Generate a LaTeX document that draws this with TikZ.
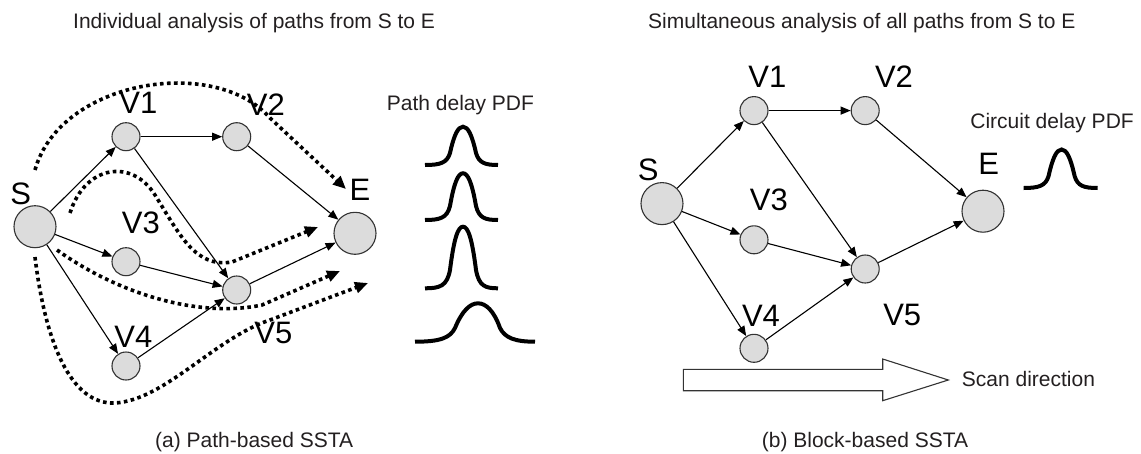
\documentclass[tikz,border=0pt]{standalone}
\usepackage{fontspec}
\setmainfont{Liberation Sans}
\usetikzlibrary{arrows.meta}
\definecolor{nodefill}{HTML}{DCDCDC}
\definecolor{nodeline}{HTML}{333333}
\definecolor{txtcol}{HTML}{231F20}
\begin{document}
\begin{tikzpicture}[x=1pt,y=-1pt,
  vtx/.style={circle, draw=nodeline, fill=nodefill, line width=1.1pt, minimum size=28pt, inner sep=0pt},
  bigvtx/.style={vtx, minimum size=42pt},
  lbl/.style={font=\fontsize{31}{31}\selectfont, inner sep=0pt, text=black},
  txt/.style={font=\fontsize{21}{21}\selectfont, inner sep=0pt, text=txtcol},
  conn/.style={-{Triangle[length=10pt,width=8pt]}, line width=1.1pt},
  pathdots/.style={line width=3.6pt, dash pattern=on 3.6pt off 3.4pt, -{Triangle[length=13pt,width=11pt]}},
  bellcurve/.style={line width=4pt},
  scanarrow/.style={draw=nodeline, fill=white, line width=1.1pt, line join=miter}
]
\useasboundingbox (0,0) rectangle (1141,453);

% titles and captions
\node[txt, anchor=base west] (t1) at (73,28.3) {Individual analysis of paths from S to E};
\node[txt, anchor=base west] (t2) at (648,28.3) {Simultaneous analysis of all paths from S to E};
\node[txt, anchor=base west] (c1) at (155,447) {(a) Path-based SSTA};
\node[txt, anchor=base west] (c2) at (761.7,447) {(b) Block-based SSTA};

% ---------- left graph ----------
\node[bigvtx] (S) at (35,226.7) {};
\node[vtx] (V1) at (126,136.7) {};
\node[vtx] (V2) at (236.7,136.7) {};
\node[vtx] (V3) at (126,261.7) {};
\node[vtx] (V5) at (236.7,290) {};
\node[vtx] (V4) at (126,366) {};
\node[bigvtx] (E) at (355,233.3) {};

\node[lbl] (lS) at (20.8,194.2) {S};
\node[lbl] (lV1) at (138.3,103.3) {V1};
\node[lbl] (lV2) at (265.8,104.2) {V2};
\node[lbl] (lE) at (360,190) {E};
\node[lbl] (lV3) at (140.8,223.3) {V3};
\node[lbl] (lV4) at (133.3,336.7) {V4};
\node[lbl] (lV5) at (273.3,333.3) {V5};

\draw[conn] (S) -- (V1);
\draw[conn] (S) -- (V3);
\draw[conn] (S) -- (V4);
\draw[conn] (V1) -- (V2);
\draw[conn] (V1) -- (V5);
\draw[conn] (V2) -- (E);
\draw[conn] (V3) -- (V5);
\draw[conn] (V4) -- (V5);
\draw[conn] (V5) -- (E);

% dotted path arrows
\coordinate (p1s) at (35,170);
\coordinate (p1e) at (346,189);
\coordinate (p2s) at (70,213);
\coordinate (p2e) at (318,227);
\coordinate (p3s) at (57,250);
\coordinate (p3e) at (340,271);
\coordinate (p4s) at (35,257);
\coordinate (p4e) at (368,283);
\draw[pathdots] (p1s) .. controls (60,80) and (215,55) .. (270,118) -- (p1e);
\draw[pathdots] (p2s) .. controls (85,165) and (132,158) .. (155,195)
  .. controls (180,235) and (195,268) .. (232,262) -- (p2e);
\draw[pathdots] (p3s) .. controls (120,295) and (200,318) .. (262,305) -- (p3e);
\draw[pathdots] (p4s) .. controls (45,340) and (70,405) .. (115,403)
  .. controls (165,400) and (215,338) .. (270,320) -- (p4e);

% path delay PDFs
\node[txt, anchor=base west] (pdl) at (386.7,110.7) {Path delay PDF};
\draw[bellcurve] (425,165) .. controls (440,165) and (447,163) .. (450,153)
  .. controls (454,135) and (458,126.7) .. (463,126.7)
  .. controls (468,126.7) and (472,135) .. (476,153)
  .. controls (479,163) and (485,165) .. (498,165);
\draw[bellcurve] (425,220) .. controls (440,220) and (447,218) .. (450,206)
  .. controls (454,183) and (458,173.3) .. (463,173.3)
  .. controls (468,173.3) and (472,183) .. (476,206)
  .. controls (479,218) and (485,220) .. (498,220);
\draw[bellcurve] (425,288.3) .. controls (440,288.3) and (447,286) .. (450,270)
  .. controls (454,238) and (458,226.7) .. (463,226.7)
  .. controls (468,226.7) and (472,238) .. (476,270)
  .. controls (479,286) and (485,288.3) .. (498,288.3);
\draw[bellcurve] (415,341.7) .. controls (440,341.7) and (450,338) .. (455,328)
  .. controls (462,311) and (470,303.3) .. (478,303.3)
  .. controls (486,303.3) and (494,311) .. (500,328)
  .. controls (505,338) and (515,341.7) .. (535,341.7);

% ---------- right graph ----------
\node[bigvtx] (RS) at (662,203.6) {};
\node[vtx] (RV1) at (754,110.6) {};
\node[vtx] (RV2) at (865.2,110.6) {};
\node[vtx] (RV3) at (754,239.8) {};
\node[vtx] (RV5) at (865.2,269) {};
\node[vtx] (RV4) at (754,348.3) {};
\node[bigvtx] (RE) at (983,211.2) {};

\node[lbl] (rlS) at (648.2,170) {S};
\node[lbl] (rlV1) at (767.4,77) {V1};
\node[lbl] (rlV2) at (894,77) {V2};
\node[lbl] (rlV3) at (768.8,200.1) {V3};
\node[lbl] (rlE) at (988.8,164.3) {E};
\node[lbl] (rlV4) at (761,315.5) {V4};
\node[lbl] (rlV5) at (902.2,314.7) {V5};

\draw[conn] (RS) -- (RV1);
\draw[conn] (RS) -- (RV3);
\draw[conn] (RS) -- (RV4);
\draw[conn] (RV1) -- (RV2);
\draw[conn] (RV1) -- (RV5);
\draw[conn] (RV2) -- (RE);
\draw[conn] (RV3) -- (RV5);
\draw[conn] (RV4) -- (RV5);
\draw[conn] (RV5) -- (RE);

\node[txt, anchor=base west] (cdl) at (970.2,128.8) {Circuit delay PDF};
\draw[bellcurve] (1023.6,188) .. controls (1038.6,188) and (1045.6,186) .. (1048.6,176)
  .. controls (1052.6,158) and (1056.6,149.5) .. (1061.6,149.5)
  .. controls (1066.6,149.5) and (1070.6,158) .. (1074.6,176)
  .. controls (1077.6,186) and (1083.6,188) .. (1097.7,188);

% scan direction arrow
\draw[scanarrow] (683.3,369.3) -- (882.7,369.3) -- (882.7,359) -- (948.3,380)
  -- (882.7,400.7) -- (882.7,390.7) -- (683.3,390.7) -- cycle;
\node[txt, anchor=base west] (scan) at (961.7,386) {Scan direction};
\end{tikzpicture}
\end{document}
